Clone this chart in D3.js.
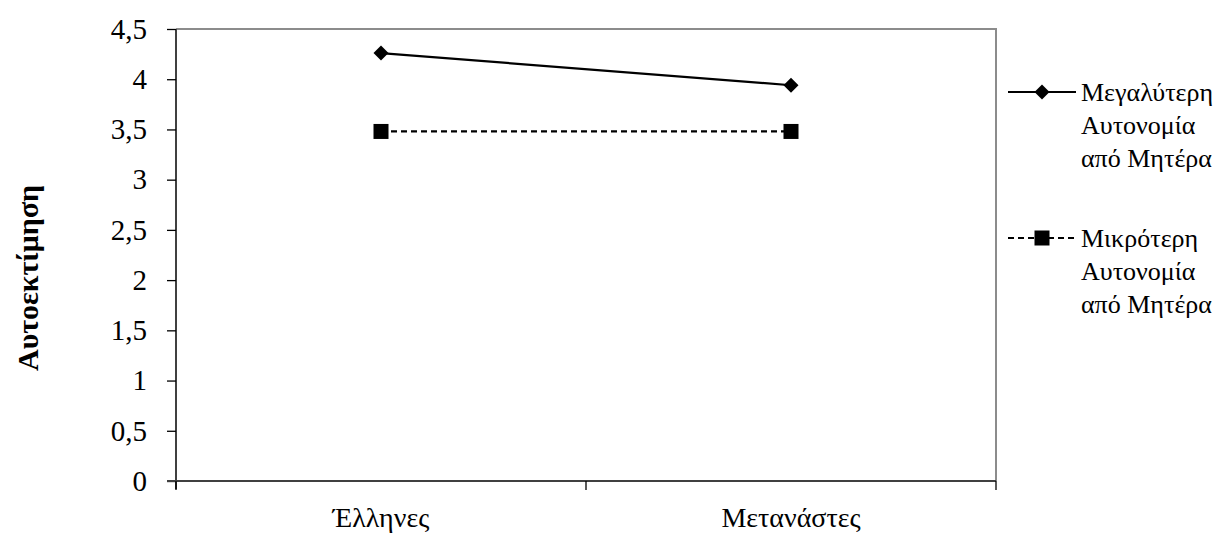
<!DOCTYPE html>
<html><head><meta charset="utf-8">
<script src="https://cdn.jsdelivr.net/npm/d3@7"></script>
<style>body{margin:0;background:#fff}svg{display:block}
svg text{font-family:"Liberation Serif","Times New Roman",serif}</style>
</head><body>
<script>
const categories = ["Έλληνες", "Μετανάστες"];
const seriesNames = [["Μεγαλύτερη", "Αυτονομία", "από Μητέρα"], ["Μικρότερη", "Αυτονομία", "από Μητέρα"]];
const seriesHigh = [4.26, 3.94];
const seriesLow = [3.48, 3.48];
const yTicks = [0, 0.5, 1, 1.5, 2, 2.5, 3, 3.5, 4, 4.5];
const yTitle = "Αυτοεκτίμηση";

const W = 1221, H = 533;
const m = {left: 176, right: 996, top: 29, bottom: 481};
const svg = d3.select("body").append("svg").attr("width", W).attr("height", H);

const x = d3.scaleBand().domain(categories).range([m.left, m.right]).padding(0);
const y = d3.scaleLinear().domain([0, 4.5]).range([m.bottom, m.top]);

svg.append("path").attr("d", `M${m.left},${m.top}H${m.right}V${m.bottom}`)
  .attr("fill", "none").attr("stroke", "#8c8c8c").attr("stroke-width", 2);

const fmt = d => String(d).replace(".", ",");
const ya = svg.append("g").attr("transform", `translate(${m.left},0)`)
  .call(d3.axisLeft(y).tickValues(yTicks).tickFormat(fmt).tickSize(9).tickPadding(20));
ya.select(".domain").attr("stroke", "#404040").attr("stroke-width", 2).attr("d", `M0,${m.top}V${m.bottom+8}`);
ya.selectAll(".tick line").attr("stroke", "#000").attr("stroke-width", 1.3);
ya.selectAll(".tick text").attr("font-family", null).attr("font-size", 29).attr("fill", "#000");

const xa = svg.append("g").attr("transform", `translate(0,${m.bottom})`)
  .call(d3.axisBottom(x).tickSize(0).tickPadding(0));
xa.select(".domain").attr("stroke", "#404040").attr("stroke-width", 2).attr("d", `M${m.left-9},0H${m.right}`);
xa.selectAll(".tick text").attr("font-family", null).attr("font-size", 28).attr("fill", "#000")
  .attr("y", 46).attr("dy", null);
const edges = [m.left, m.left + x.bandwidth(), m.right];
xa.selectAll(".edge").data(edges).enter().append("line")
  .attr("x1", d => d).attr("x2", d => d).attr("y1", 0).attr("y2", 9)
  .attr("stroke", "#000").attr("stroke-width", 1.3);

svg.append("text").attr("transform", `translate(38,278) rotate(-90)`)
  .attr("text-anchor", "middle").attr("font-weight", "bold")
  .attr("font-size", 30).text(yTitle);

const cx = c => x(c) + x.bandwidth() / 2;
const line = d3.line().x((d, i) => cx(categories[i])).y(d => y(d));

svg.append("path").datum(seriesHigh).attr("d", line).attr("fill", "none")
  .attr("stroke", "#000").attr("stroke-width", 2.2);
svg.append("path").datum(seriesLow).attr("d", line).attr("fill", "none")
  .attr("stroke", "#000").attr("stroke-width", 2.2).attr("stroke-dasharray", "6,4");

const diamond = (g, px, py) => g.append("path")
  .attr("d", `M${px},${py-7.5}L${px+7.5},${py}L${px},${py+7.5}L${px-7.5},${py}Z`).attr("fill", "#000");
const square = (g, px, py) => g.append("rect").attr("x", px-7.5).attr("y", py-7.5)
  .attr("width", 15).attr("height", 15).attr("fill", "#000");

seriesHigh.forEach((v, i) => diamond(svg, cx(categories[i]), y(v)));
seriesLow.forEach((v, i) => square(svg, cx(categories[i]), y(v)));

const legY = [92, 238];
const lg = svg.append("g");
[0, 1].forEach(k => {
  const ly = legY[k];
  lg.append("line").attr("x1", 1008).attr("x2", 1076).attr("y1", ly).attr("y2", ly)
    .attr("stroke", "#000").attr("stroke-width", 2.2)
    .attr("stroke-dasharray", k === 1 ? "6,4" : null);
  if (k === 0) diamond(lg, 1042, ly); else square(lg, 1042, ly);
  const t = lg.append("text").attr("font-size", 26).attr("fill", "#000");
  seriesNames[k].forEach((s, j) => t.append("tspan").attr("x", 1081).attr("y", ly + 9 + j * 33).text(s));
});
</script>
</body></html>
